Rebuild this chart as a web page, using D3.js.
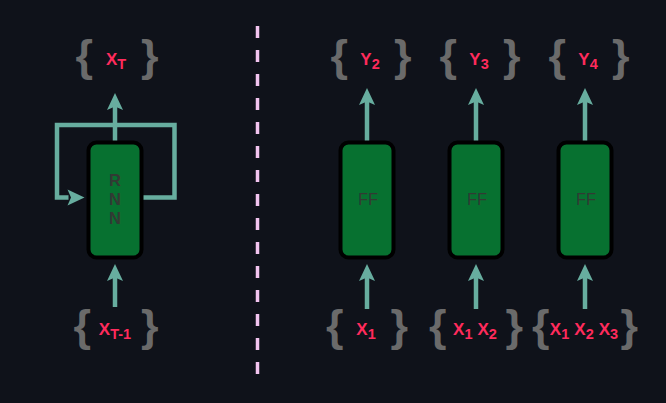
<!DOCTYPE html>
<html>
<head>
<meta charset="utf-8">
<script src="https://cdn.jsdelivr.net/npm/d3@7"></script>
<style>
  html, body { margin: 0; padding: 0; background: #0f121a; }
  svg { display: block; }
  text { font-family: "Liberation Sans", Arial, sans-serif; }
</style>
</head>
<body>
<svg id="chart" width="666" height="403"></svg>
<script>
/* data */
const rnnBoxLetters = ['R', 'N', 'N'];
const rnnOutput = ['T'];
const rnnInput = ['T-1'];
const ffSteps = [2, 3, 4];
const ffInputs = [[1], [1, 2], [1, 2, 3]];
const ffBoxLabel = 'FF';

const chart = d3.select('#chart');

const teal = '#67ad9f';
const pink = '#ff2b5c';
const braceGray = '#6a6a6a';
const boxGreen = '#077130';

const boxW = 53;
const boxTop = 142.5;
const boxH = 115;
const topArrowTip = 88;
const bottomArrowTip = 264;
const bottomArrowTail = 309;
const arrowLen = 17;
const arrowHalf = 8;
const lineW = 4.5;

const rnnX = 115;
const x = d3.scalePoint()
  .domain(ffSteps)
  .range([367, 585]);

/* arrow head: tip at (0,0) pointing up */
const headPath = `M 0 0 L ${arrowHalf} ${arrowLen} L 0 ${arrowLen - 3.5} L ${-arrowHalf} ${arrowLen} Z`;

const arrowUp = (cx, y1, y2) => {
  chart.append('line')
    .attr('x1', cx).attr('x2', cx)
    .attr('y1', y1).attr('y2', y2 + arrowLen - 4)
    .attr('stroke', teal)
    .attr('stroke-width', lineW);
  chart.append('path')
    .attr('d', headPath)
    .attr('fill', teal)
    .attr('transform', `translate(${cx},${y2})`);
};

/* label like X_1 X_2 with braces around */
const bracedLabel = (cx, baseline, parts, innerHalf) => {
  const t = chart.append('text')
    .attr('x', cx)
    .attr('y', baseline)
    .attr('text-anchor', 'middle')
    .attr('fill', pink)
    .attr('font-weight', 'bold');
  parts.forEach((p, i) => {
    t.append('tspan')
      .attr('dx', i ? 5 : 0)
      .attr('dy', i ? -4 : 0)
      .attr('font-size', 17)
      .text(p.main);
    t.append('tspan')
      .attr('dy', 4)
      .attr('font-size', 14.5)
      .text(p.sub);
  });
  const braceBase = baseline + 6;
  chart.append('text')
    .attr('x', cx - innerHalf + 2)
    .attr('y', braceBase)
    .attr('text-anchor', 'end')
    .attr('font-size', 45)
    .attr('font-weight', 'bold')
    .attr('fill', braceGray)
    .text('{');
  chart.append('text')
    .attr('x', cx + innerHalf)
    .attr('y', braceBase)
    .attr('text-anchor', 'start')
    .attr('font-size', 45)
    .attr('font-weight', 'bold')
    .attr('fill', braceGray)
    .text('}');
};

const box = (cx) => {
  chart.append('rect')
    .attr('x', cx - boxW / 2)
    .attr('y', boxTop)
    .attr('width', boxW)
    .attr('height', boxH)
    .attr('rx', 8)
    .attr('fill', boxGreen)
    .attr('stroke', '#000')
    .attr('stroke-width', 4);
};

/* divider */
chart.append('line')
  .attr('x1', 257.5).attr('x2', 257.5)
  .attr('y1', 26).attr('y2', 374)
  .attr('stroke', '#f2c4ef')
  .attr('stroke-width', 3.5)
  .attr('stroke-dasharray', '12 12');

/* RNN side */
const loopRight = 174.5;
const loopLeft = 57;
const loopTop = 125;
const loopY = 197.5;
chart.append('path')
  .attr('d', `M ${rnnX + boxW / 2} ${loopY} H ${loopRight} V ${loopTop} H ${loopLeft} V ${loopY} H ${rnnX - boxW / 2 - 20}`)
  .attr('fill', 'none')
  .attr('stroke', teal)
  .attr('stroke-width', lineW);
chart.append('path')
  .attr('d', headPath)
  .attr('fill', teal)
  .attr('transform', `translate(${rnnX - boxW / 2 - 4},${loopY}) rotate(90)`);

arrowUp(rnnX, boxTop, topArrowTip + 5);
arrowUp(rnnX, bottomArrowTail - 2, bottomArrowTip);
box(rnnX);

chart.selectAll('text.rnn')
  .data(rnnBoxLetters)
  .join('text')
  .attr('class', 'rnn')
  .attr('x', rnnX)
  .attr('y', (d, i) => 186 + i * 19)
  .attr('text-anchor', 'middle')
  .attr('font-size', 16.5)
  .attr('font-weight', 'bold')
  .attr('fill', '#323a34')
  .text(d => d);

bracedLabel(rnnX + 1, 65, rnnOutput.map(s => ({ main: 'X', sub: s })), 25);
bracedLabel(rnnX, 335, rnnInput.map(s => ({ main: 'X', sub: s })), 26);

/* feed forward side */
ffSteps.forEach((step, i) => {
  const cx = x(step);
  arrowUp(cx, boxTop, topArrowTip);
  arrowUp(cx, bottomArrowTail, bottomArrowTip);
  box(cx);
  chart.append('text')
    .attr('x', cx + 1)
    .attr('y', 205)
    .attr('text-anchor', 'middle')
    .attr('font-size', 16.5)
    .attr('fill', '#323a34')
    .text(ffBoxLabel);
  bracedLabel(cx + 3, 65, [{ main: 'Y', sub: step }], 24);
  const n = ffInputs[i].length;
  bracedLabel(cx - 1, 335, ffInputs[i].map(s => ({ main: 'X', sub: s })), 24.5 + 6 * (n - 1));
});
</script>
</body>
</html>
